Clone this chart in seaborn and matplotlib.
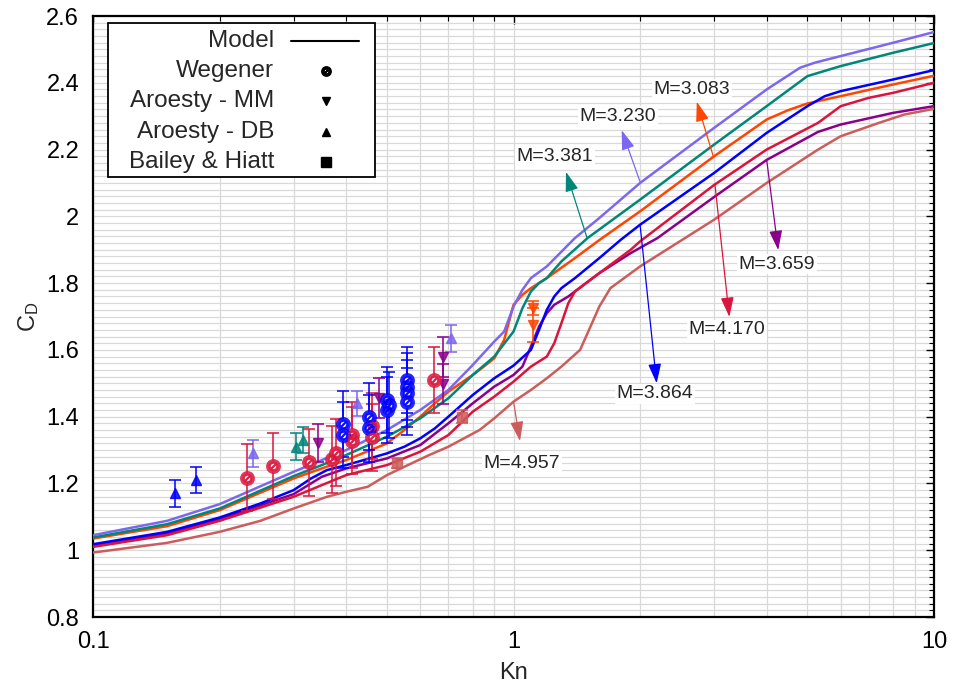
import numpy as np
import pandas as pd
import matplotlib
matplotlib.use("Agg")
import matplotlib.pyplot as plt
import seaborn as sns
from matplotlib.ticker import LogLocator, MultipleLocator, FuncFormatter, NullFormatter
from matplotlib.patches import Rectangle
from matplotlib.lines import Line2D

sns.set_style("white")
plt.rcParams["font.family"] = ["Liberation Sans", "DejaVu Sans"]
plt.rcParams["mathtext.default"] = "regular"

# ---------------- model curves ----------------
kn_3083 = [0.1, 0.15, 0.2, 0.3, 0.35, 0.4, 0.5, 0.55, 0.6, 0.65, 0.7, 0.8, 0.85, 0.9, 0.95, 1.0, 1.05, 1.1, 1.2, 1.4, 1.6, 2.0, 3.0, 4.0, 4.5, 5.0, 6.0, 8.0, 10]
cd_3083 = [1.035, 1.072, 1.12, 1.215, 1.245, 1.27, 1.32, 1.36, 1.40, 1.44, 1.475, 1.525, 1.55, 1.575, 1.63, 1.735, 1.765, 1.785, 1.815, 1.875, 1.929, 2.015, 2.18, 2.29, 2.318, 2.338, 2.36, 2.395, 2.421]

kn_3230 = [0.1, 0.15, 0.2, 0.3, 0.35, 0.4, 0.5, 0.6, 0.7, 0.8, 0.9, 0.95, 1.0, 1.05, 1.1, 1.15, 1.2, 1.4, 1.6, 2.0, 3.0, 4.0, 4.8, 5.2, 6.0, 8.0, 10]
cd_3230 = [1.045, 1.088, 1.138, 1.235, 1.27, 1.30, 1.36, 1.42, 1.48, 1.555, 1.625, 1.655, 1.73, 1.78, 1.815, 1.833, 1.85, 1.935, 1.995, 2.10, 2.265, 2.38, 2.445, 2.46, 2.48, 2.52, 2.552]

kn_3381 = [0.1, 0.15, 0.2, 0.3, 0.35, 0.4, 0.5, 0.6, 0.7, 0.8, 0.9, 1.0, 1.05, 1.1, 1.15, 1.2, 1.3, 1.5, 2.0, 3.0, 4.0, 5.0, 6.0, 8.0, 10]
cd_3381 = [1.038, 1.078, 1.125, 1.222, 1.255, 1.285, 1.34, 1.395, 1.455, 1.525, 1.58, 1.655, 1.725, 1.775, 1.8, 1.815, 1.865, 1.935, 2.05, 2.215, 2.33, 2.42, 2.45, 2.49, 2.519]

kn_3659 = [0.1, 0.15, 0.2, 0.3, 0.35, 0.4, 0.5, 0.6, 0.7, 0.8, 0.9, 1.0, 1.05, 1.1, 1.15, 1.2, 1.25, 1.35, 1.6, 1.9, 2.2, 3.0, 4.0, 5.3, 6.0, 8.0, 10]
cd_3659 = [1.015, 1.05, 1.093, 1.168, 1.22, 1.245, 1.275, 1.315, 1.38, 1.44, 1.49, 1.525, 1.55, 1.61, 1.67, 1.71, 1.735, 1.76, 1.83, 1.89, 1.935, 2.058, 2.169, 2.253, 2.275, 2.31, 2.33]

kn_3864 = [0.1, 0.15, 0.2, 0.25, 0.3, 0.33, 0.36, 0.4, 0.5, 0.55, 0.6, 0.65, 0.7, 0.8, 0.9, 1.0, 1.1, 1.15, 1.2, 1.25, 1.3, 1.4, 1.6, 1.8, 2.0, 3.0, 4.0, 5.0, 5.5, 6.0, 8.0, 10]
cd_3864 = [1.018, 1.055, 1.098, 1.14, 1.18, 1.215, 1.24, 1.255, 1.29, 1.31, 1.335, 1.365, 1.40, 1.465, 1.515, 1.553, 1.60, 1.66, 1.72, 1.76, 1.785, 1.815, 1.875, 1.93, 1.975, 2.13, 2.25, 2.33, 2.36, 2.375, 2.41, 2.438]

kn_4170 = [0.1, 0.15, 0.2, 0.3, 0.35, 0.4, 0.5, 0.6, 0.7, 0.8, 0.9, 1.0, 1.1, 1.2, 1.25, 1.3, 1.35, 1.4, 1.6, 1.9, 2.0, 3.0, 4.0, 5.3, 6.0, 7.0, 8.0, 10]
cd_4170 = [1.01, 1.045, 1.088, 1.16, 1.195, 1.225, 1.255, 1.295, 1.345, 1.415, 1.46, 1.505, 1.55, 1.58, 1.62, 1.68, 1.74, 1.775, 1.83, 1.90, 1.925, 2.094, 2.20, 2.28, 2.33, 2.355, 2.37, 2.40]

kn_4957 = [0.1, 0.15, 0.2, 0.25, 0.3, 0.36, 0.4, 0.45, 0.5, 0.55, 0.63, 0.7, 0.83, 0.9, 1.0, 1.1, 1.2, 1.3, 1.44, 1.5, 1.6, 1.7, 2.0, 3.0, 4.0, 5.3, 6.0, 7.4, 8.5, 10]
cd_4957 = [0.993, 1.022, 1.055, 1.088, 1.125, 1.16, 1.175, 1.19, 1.225, 1.25, 1.285, 1.31, 1.36, 1.395, 1.445, 1.48, 1.515, 1.55, 1.60, 1.65, 1.73, 1.785, 1.85, 1.99, 2.10, 2.20, 2.24, 2.28, 2.305, 2.322]

mach_labels = ["3.083", "3.230", "3.381", "3.659", "3.864", "4.170", "4.957"]
mach_colors = ["#FF4500", "#7B68EE", "#00877A", "#8B008B", "#0000FF", "#DC143C", "#CD5C5C"]
curve_kn = [kn_3083, kn_3230, kn_3381, kn_3659, kn_3864, kn_4170, kn_4957]
curve_cd = [cd_3083, cd_3230, cd_3381, cd_3659, cd_3864, cd_4170, cd_4957]

# ---------------- experimental data ----------------
weg_kn = [0.233, 0.268, 0.326, 0.371, 0.378, 0.414, 0.414, 0.46, 0.46, 0.646,
          0.393, 0.393, 0.453, 0.453, 0.50, 0.50, 0.505, 0.559, 0.559, 0.559, 0.559]
weg_cd = [1.217, 1.252, 1.263, 1.272, 1.292, 1.345, 1.328, 1.372, 1.338, 1.51,
          1.378, 1.345, 1.40, 1.365, 1.45, 1.42, 1.435, 1.51, 1.49, 1.47, 1.445]
weg_err = [0.1] * 21
weg_mach = ["4.170"] * 10 + ["3.864"] * 11

mm_kn = [0.343, 0.480, 0.678, 0.678, 1.11, 1.11]
mm_cd = [1.32, 1.455, 1.578, 1.498, 1.725, 1.675]
mm_err = [0.057, 0.06, 0.06, 0.06, 0.02, 0.05]
mm_mach = ["3.659", "3.659", "3.659", "3.659", "3.083", "3.083"]

db_kn = [0.157, 0.176, 0.240, 0.304, 0.315, 0.424, 0.711]
db_cd = [1.17, 1.21, 1.29, 1.31, 1.33, 1.44, 1.635]
db_err = [0.04, 0.04, 0.04, 0.04, 0.04, 0.038, 0.04]
db_mach = ["3.864", "3.864", "3.230", "3.381", "3.381", "3.230", "3.230"]

bh_kn = [0.527, 0.753]
bh_cd = [1.262, 1.40]
bh_err = [0.015, 0.02]
bh_mach = ["4.957", "4.957"]

# annotation (label, text pos, arrow tip, arrow tail) in data coords
ann_text = [(2.658, 2.381), (1.772, 2.300), (1.255, 2.178), (4.233, 1.857), (2.17, 1.468), (3.219, 1.660), (1.048, 1.261)]
ann_tip = [(2.728, 2.343), (1.808, 2.258), (1.333, 2.133), (4.26, 1.899), (2.19, 1.500), (3.26, 1.699), (1.036, 1.327)]
ann_tail = [(2.987, 2.179), (1.999, 2.104), (1.496, 1.935), (4.0, 2.169), (2.0, 1.974), (3.014, 2.094), (1.0, 1.445)]

legend_labels = ["Model", "Wegener", "Aroesty - MM", "Aroesty - DB", "Bailey & Hiatt"]

# ---------------- build ----------------
color_of = dict(zip(mach_labels, mach_colors))
rows = []
for m, ks, cs in zip(mach_labels, curve_kn, curve_cd):
    for k, c in zip(ks, cs):
        rows.append((m, k, c))
df = pd.DataFrame(rows, columns=["M", "Kn", "CD"])

fig = plt.figure(figsize=(9.56, 6.96), dpi=100)
ax = fig.add_axes([0.0973, 0.1135, 0.8797, 0.8635])

sns.lineplot(data=df, x="Kn", y="CD", hue="M", palette=color_of, estimator=None,
             sort=False, legend=False, lw=1.8, ax=ax, zorder=3)
ax.set_xscale("log")
ax.set_xlim(0.1, 10)
ax.set_ylim(0.8, 2.6)

alpha = 0.85
def draw_err(kn, cd, err, mach, marker, ms, mfc=None, mew=1.0):
    for k, c, e, m in zip(kn, cd, err, mach):
        col = color_of[m]
        ax.errorbar([k], [c], yerr=[e], fmt="none", ecolor=col, elinewidth=1.3,
                    capsize=4.5, capthick=1.3, alpha=alpha, zorder=4)
        ax.plot([k], [c], marker=marker, ms=ms, color=col, mec=col,
                mfc=(col if mfc is None else mfc), mew=mew, ls="none", alpha=alpha, zorder=5)

draw_err(db_kn, db_cd, db_err, db_mach, "^", 7)
draw_err(mm_kn, mm_cd, mm_err, mm_mach, "v", 7)
draw_err(bh_kn, bh_cd, bh_err, bh_mach, "s", 7)
draw_err(weg_kn, weg_cd, weg_err, weg_mach, "o", 8.5, mfc="white", mew=2.2)
for k, c, m in zip(weg_kn, weg_cd, weg_mach):
    ax.plot([k], [c], marker=r"$\oslash$", ms=6, color=color_of[m], ls="none", alpha=alpha, zorder=6)

# annotations
for m, t, tip, tail in zip(mach_labels, ann_text, ann_tip, ann_tail):
    col = color_of[m]
    ax.annotate("", xy=tip, xytext=tail,
                arrowprops=dict(arrowstyle="-|>,head_length=0.6,head_width=0.2",
                                color=col, lw=0.9, mutation_scale=20, shrinkA=0, shrinkB=0),
                zorder=7)
    ax.text(t[0], t[1], "M=" + m, fontsize=14, ha="center", va="center", zorder=8,
            bbox=dict(fc="white", ec="none", pad=1.0))

# axes styling
ax.xaxis.set_major_locator(LogLocator(base=10, numticks=10))
ax.xaxis.set_minor_locator(LogLocator(base=10, subs=np.arange(2, 10), numticks=20))
ax.xaxis.set_minor_formatter(NullFormatter())
ax.xaxis.set_major_formatter(FuncFormatter(lambda v, p: "%g" % v))
ax.yaxis.set_major_locator(MultipleLocator(0.2))
ax.yaxis.set_minor_locator(MultipleLocator(0.02))
ax.yaxis.set_major_formatter(FuncFormatter(lambda v, p: "%g" % round(v, 2)))
ax.grid(which="both", color="#d9d9d9", lw=0.9)
ax.set_axisbelow(True)
ax.tick_params(which="both", direction="in", top=True, right=True, colors="black", labelsize=17)
ax.tick_params(which="major", length=6, width=1.0, pad=10)
ax.tick_params(which="minor", length=3.5, width=0.8)
for s in ax.spines.values():
    s.set_linewidth(1.6)
    s.set_color("black")

ax.set_xlabel("Kn", fontsize=17)
ax.set_ylabel("C$_D$", fontsize=17)
ax.xaxis.set_label_coords(0.5, -0.075)
ax.yaxis.set_label_coords(-0.062, 0.5)

# legend drawn in axes coordinates
ax.add_patch(Rectangle((0.0178, 0.732), 0.317, 0.256, transform=ax.transAxes,
                       fc="white", ec="black", lw=1.3, zorder=9))
row_y = [0.9589, 0.9085, 0.8586, 0.8075, 0.7576]
for lab, yy in zip(legend_labels, row_y):
    ax.text(0.2152, yy, lab, transform=ax.transAxes, ha="right", va="center",
            fontsize=17.5, zorder=10)
ax.add_line(Line2D([0.2354, 0.3163], [row_y[0], row_y[0]], transform=ax.transAxes,
                   color="black", lw=1.5, zorder=10))
mk = [("o", 6), ("v", 6), ("^", 6), ("s", 6.5)]
for (m, s), yy in zip(mk, row_y[1:]):
    if m == "o":
        ax.add_line(Line2D([0.2767], [yy], transform=ax.transAxes, marker="o", ms=s,
                           mfc="white", mec="black", mew=1.8, ls="none", zorder=10))
        ax.add_line(Line2D([0.2767], [yy], transform=ax.transAxes, marker=r"$\oslash$", ms=4.5,
                           color="black", ls="none", zorder=11))
    else:
        ax.add_line(Line2D([0.2767], [yy], transform=ax.transAxes, marker=m, ms=s,
                           color="black", ls="none", zorder=10))

fig.savefig("out.png", dpi=100)
